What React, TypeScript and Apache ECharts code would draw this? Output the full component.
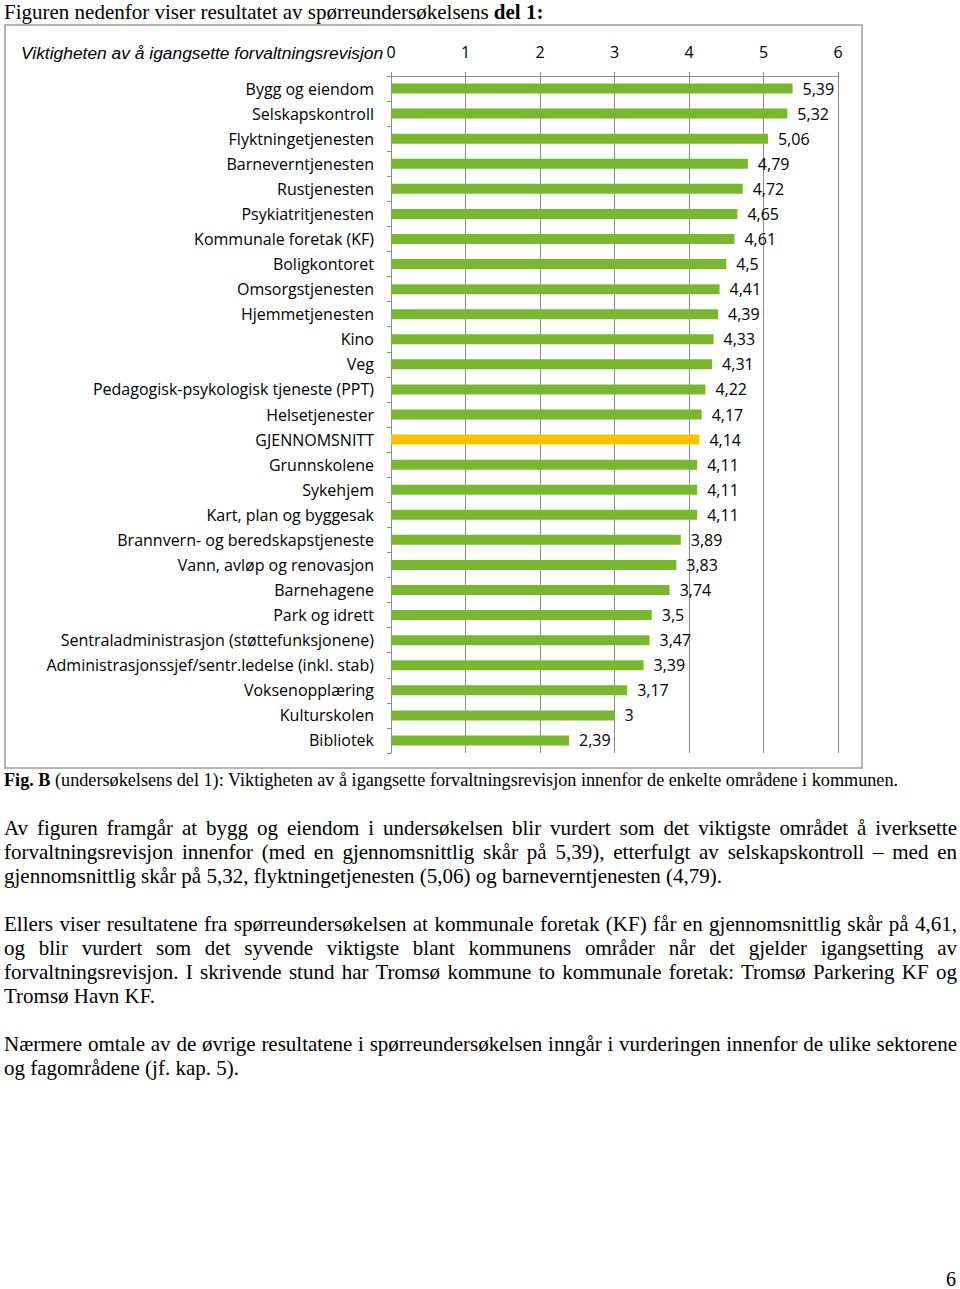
import React, { useEffect, useRef } from "react";
import * as echarts from "echarts";

const categories = [
  "Bygg og eiendom",
  "Selskapskontroll",
  "Flyktningetjenesten",
  "Barneverntjenesten",
  "Rustjenesten",
  "Psykiatritjenesten",
  "Kommunale foretak (KF)",
  "Boligkontoret",
  "Omsorgstjenesten",
  "Hjemmetjenesten",
  "Kino",
  "Veg",
  "Pedagogisk-psykologisk tjeneste (PPT)",
  "Helsetjenester",
  "GJENNOMSNITT",
  "Grunnskolene",
  "Sykehjem",
  "Kart, plan og byggesak",
  "Brannvern- og beredskapstjeneste",
  "Vann, avløp og renovasjon",
  "Barnehagene",
  "Park og idrett",
  "Sentraladministrasjon (støttefunksjonene)",
  "Administrasjonssjef/sentr.ledelse (inkl. stab)",
  "Voksenopplæring",
  "Kulturskolen",
  "Bibliotek",
];

const values = [
  5.39, 5.32, 5.06, 4.79, 4.72, 4.65, 4.61, 4.5, 4.41, 4.39, 4.33, 4.31, 4.22,
  4.17, 4.14, 4.11, 4.11, 4.11, 3.89, 3.83, 3.74, 3.5, 3.47, 3.39, 3.17, 3, 2.39,
];

const highlightCategory = "GJENNOMSNITT";
const xTicks = [0, 1, 2, 3, 4, 5, 6];

const chartTitle = "Viktigheten av å igangsette forvaltningsrevisjon";

const GREEN = "#78b82f";
const YELLOW = "#ffc000";
const AXIS_GRAY = "#8c8c8c";
const LABEL_FONT = "'Open Sans', sans-serif";

function Chart() {
  const ref = useRef<HTMLDivElement>(null);
  useEffect(() => {
    if (!ref.current) return;
    const chart = echarts.init(ref.current, undefined, { renderer: "svg" });
    chart.setOption({
      animation: false,
      title: {
        text: chartTitle,
        left: 10,
        top: 13,
        textStyle: {
          fontFamily: "'Liberation Sans', Arial, sans-serif",
          fontStyle: "italic",
          fontWeight: "normal",
          fontSize: 17.4,
          color: "#000",
        },
      },
      grid: { left: 385, right: 23, top: 50, bottom: 14, containLabel: false },
      xAxis: {
        type: "value",
        position: "top",
        min: xTicks[0],
        max: xTicks[xTicks.length - 1],
        interval: 1,
        axisLine: { show: true, lineStyle: { color: AXIS_GRAY, width: 1 } },
        axisTick: { show: true, length: 4, lineStyle: { color: AXIS_GRAY } },
        splitLine: { show: true, lineStyle: { color: AXIS_GRAY, width: 1 } },
        axisLabel: {
          margin: 16,
          color: "#000",
          fontFamily: LABEL_FONT,
          fontSize: 16,
          formatter: (v: number) => String(v),
        },
      },
      yAxis: {
        type: "category",
        inverse: true,
        data: categories,
        axisLine: { show: true, lineStyle: { color: AXIS_GRAY, width: 1 } },
        axisTick: { show: true, length: 4, lineStyle: { color: AXIS_GRAY } },
        axisLabel: {
          margin: 17,
          color: "#000",
          fontFamily: LABEL_FONT,
          fontSize: 16,
        },
      },
      series: [
        {
          type: "bar",
          barWidth: 10,
          data: values.map((v, i) => ({
            value: v,
            itemStyle: {
              color: categories[i] === highlightCategory ? YELLOW : GREEN,
            },
          })),
          label: {
            show: true,
            position: "right",
            distance: 10,
            color: "#000",
            fontFamily: LABEL_FONT,
            fontSize: 16,
            formatter: (p: any) => String(p.value).replace(".", ","),
          },
        },
      ],
    });
    return () => chart.dispose();
  }, []);
  return (
    <div
      ref={ref}
      style={{
        position: "absolute",
        left: 4,
        top: 24,
        width: 859,
        height: 745,
        boxSizing: "border-box",
        border: "2px solid #b4b4b4",
      }}
    />
  );
}

const serif = "'Liberation Serif', 'Times New Roman', serif";

const para1 = [
  "Av figuren framgår at bygg og eiendom i undersøkelsen blir vurdert som det viktigste området å iverksette",
  "forvaltningsrevisjon innenfor (med en gjennomsnittlig skår på 5,39), etterfulgt av selskapskontroll – med en",
  "gjennomsnittlig skår på 5,32, flyktningetjenesten (5,06) og barneverntjenesten (4,79).",
];
const para2 = [
  "Ellers viser resultatene fra spørreundersøkelsen at kommunale foretak (KF) får en gjennomsnittlig skår på 4,61,",
  "og blir vurdert som det syvende viktigste blant kommunens områder når det gjelder igangsetting av",
  "forvaltningsrevisjon. I skrivende stund har Tromsø kommune to kommunale foretak: Tromsø Parkering KF og",
  "Tromsø Havn KF.",
];
const para3 = [
  "Nærmere omtale av de øvrige resultatene i spørreundersøkelsen inngår i vurderingen innenfor de ulike sektorene",
  "og fagområdene (jf. kap. 5).",
];

function Paragraph({ lines, top }: { lines: string[]; top: number }) {
  return (
    <div
      style={{
        position: "absolute",
        left: 4,
        top,
        width: 953,
        fontFamily: serif,
        fontSize: 21,
        lineHeight: "24px",
        color: "#000",
      }}
    >
      {lines.map((l, i) => (
        <div
          key={i}
          style={{
            whiteSpace: i < lines.length - 1 ? "normal" : "nowrap",
            textAlign: "justify",
            textAlignLast: i < lines.length - 1 ? "justify" : "left",
          } as React.CSSProperties}
        >
          {l}
        </div>
      ))}
    </div>
  );
}

export default function App() {
  return (
    <div
      style={{
        position: "absolute",
        left: 0,
        top: 0,
        width: 960,
        height: 1289,
        background: "#fff",
        overflow: "hidden",
      }}
    >
      <div
        style={{
          position: "absolute",
          left: 4,
          top: 0,
          fontFamily: serif,
          fontSize: 21,
          lineHeight: "24px",
          whiteSpace: "nowrap",
        }}
      >
        Figuren nedenfor viser resultatet av spørreundersøkelsens <b>del 1:</b>
      </div>
      <Chart />
      <div
        style={{
          position: "absolute",
          left: 4,
          top: 770,
          fontFamily: serif,
          fontSize: 18.2,
          lineHeight: "20px",
          whiteSpace: "nowrap",
        }}
      >
        <b>Fig. B</b> (undersøkelsens del 1): Viktigheten av å igangsette
        forvaltningsrevisjon innenfor de enkelte områdene i kommunen.
      </div>
      <Paragraph lines={para1} top={816} />
      <Paragraph lines={para2} top={912} />
      <Paragraph lines={para3} top={1032} />
      <div
        style={{
          position: "absolute",
          left: 925,
          width: 31,
          textAlign: "right",
          top: 1270,
          fontFamily: serif,
          fontSize: 20,
          lineHeight: "18px",
        }}
      >
        6
      </div>
    </div>
  );
}
